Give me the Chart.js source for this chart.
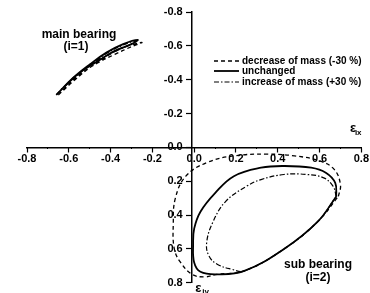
<!DOCTYPE html>
<html>
<head>
<meta charset="utf-8">
<script src="https://cdn.jsdelivr.net/npm/chart.js@4.4.1/dist/chart.umd.min.js"></script>
<style>
  html, body { margin: 0; padding: 0; background: #fff; }
  #wrap { width: 370px; height: 293px; }
</style>
</head>
<body>
<div id="wrap"><canvas id="orbitChart"></canvas></div>
<script>
// tick labels
const majorTicks = [-0.8, -0.6, -0.4, -0.2, 0.0, 0.2, 0.4, 0.6, 0.8];

// main bearing (i=1) orbits
const mainDecX = [-0.65, -0.57, -0.49, -0.41, -0.33, -0.25, -0.30, -0.38, -0.46, -0.55, -0.62, -0.65];
const mainDecY = [-0.31, -0.40, -0.48, -0.545, -0.595, -0.62, -0.595, -0.55, -0.50, -0.43, -0.35, -0.31];
const mainUncX = [-0.66, -0.58, -0.50, -0.42, -0.34, -0.27, -0.30, -0.38, -0.46, -0.55, -0.62, -0.66];
const mainUncY = [-0.31, -0.41, -0.49, -0.56, -0.61, -0.635, -0.61, -0.57, -0.51, -0.44, -0.36, -0.31];
const mainIncX = [-0.66, -0.58, -0.50, -0.42, -0.34, -0.28, -0.32, -0.40, -0.48, -0.56, -0.63, -0.66];
const mainIncY = [-0.31, -0.405, -0.485, -0.555, -0.605, -0.63, -0.60, -0.555, -0.50, -0.43, -0.35, -0.31];

// sub bearing (i=2) orbits
const subDecX = [0.69, 0.70, 0.67, 0.60, 0.48, 0.35, 0.19, 0.06, -0.04, -0.09, -0.10, -0.095, -0.065, -0.01, 0.05, 0.11, 0.24, 0.43, 0.59, 0.69];
const subDecY = [0.29, 0.22, 0.13, 0.08, 0.05, 0.04, 0.05, 0.09, 0.17, 0.30, 0.45, 0.60, 0.68, 0.75, 0.765, 0.75, 0.73, 0.60, 0.44, 0.29];
const subUncX = [0.68, 0.675, 0.63, 0.56, 0.43, 0.32, 0.19, 0.10, 0.03, 0.0, -0.005, 0.0, 0.03, 0.11, 0.24, 0.43, 0.59, 0.68];
const subUncY = [0.29, 0.21, 0.15, 0.12, 0.11, 0.12, 0.17, 0.27, 0.38, 0.48, 0.57, 0.68, 0.735, 0.75, 0.73, 0.60, 0.44, 0.29];
const subIncX = [0.68, 0.665, 0.62, 0.54, 0.43, 0.32, 0.25, 0.15, 0.09, 0.06, 0.07, 0.11, 0.18, 0.24, 0.43, 0.59, 0.68];
const subIncY = [0.29, 0.23, 0.18, 0.16, 0.16, 0.19, 0.23, 0.32, 0.44, 0.56, 0.64, 0.69, 0.72, 0.73, 0.60, 0.44, 0.29];

const seriesNames = ['decrease of mass (-30 %)', 'unchanged', 'increase of mass (+30 %)'];

const FONT = 'Liberation Sans';
Chart.defaults.font.family = FONT;
Chart.defaults.font.weight = 'bold';
Chart.defaults.color = '#000';

function pts(xs, ys) {
    return xs.map((x, i) => ({x: x, y: ys[i]}));
}

const styles = [
    {borderDash: [4, 3], borderWidth: 1.3},
    {borderDash: [], borderWidth: 1.8},
    {borderDash: [5, 2, 1.5, 2], borderWidth: 1.2}
];

function orbit(xs, ys, s) {
    return {
        data: pts(xs, ys),
        showLine: true,
        borderColor: '#000',
        borderWidth: styles[s].borderWidth,
        borderDash: styles[s].borderDash,
        pointRadius: 0,
        tension: 0.4,
        fill: false
    };
}

// labels, axis titles and legend drawn on top of the chart
const annotations = {
    id: 'annotations',
    afterDraw(chart) {
        const ctx = chart.ctx;
        const sx = chart.scales.x, sy = chart.scales.y;
        ctx.save();
        ctx.fillStyle = '#000';
        ctx.textAlign = 'center';
        ctx.textBaseline = 'middle';
        ctx.font = 'bold 12px ' + FONT;
        ctx.fillText('main bearing', 79, 35);
        ctx.fillText('(i=1)', 76, 47);
        ctx.fillText('sub bearing', 318, 265);
        ctx.fillText('(i=2)', 318, 278);

        // axis titles
        ctx.font = 'bold 13px ' + FONT;
        ctx.fillText('ε', sx.getPixelForValue(0.76), sy.getPixelForValue(-0.11));
        ctx.font = 'bold 8px ' + FONT;
        ctx.fillText('ix', sx.getPixelForValue(0.785), sy.getPixelForValue(-0.085));
        ctx.font = 'bold 13px ' + FONT;
        ctx.fillText('ε', sx.getPixelForValue(0.02), 288);
        ctx.font = 'bold 8px ' + FONT;
        ctx.fillText('iy', sx.getPixelForValue(0.055), 292);

        // legend
        ctx.font = 'bold 10px ' + FONT;
        ctx.textAlign = 'left';
        const rowY = [61, 71, 82];
        seriesNames.forEach((name, i) => {
            ctx.beginPath();
            ctx.lineWidth = styles[i].borderWidth;
            ctx.setLineDash(styles[i].borderDash);
            ctx.moveTo(214, rowY[i]);
            ctx.lineTo(239, rowY[i]);
            ctx.stroke();
            ctx.setLineDash([]);
            ctx.fillText(name, 242, rowY[i]);
        });
        ctx.restore();
    }
};

function zeroWidth(s) { s.width = 0; }
function zeroHeight(s) { s.height = 0; }
function setMajor(s) { s.ticks = majorTicks.map(v => ({value: v})); }

const ctx = document.getElementById('orbitChart').getContext('2d');
window.orbitChart = new Chart(ctx, {
    type: 'scatter',
    data: {
        datasets: [
            orbit(mainDecX, mainDecY, 0),
            orbit(mainUncX, mainUncY, 1),
            orbit(mainIncX, mainIncY, 2),
            orbit(subDecX, subDecY, 0),
            orbit(subUncX, subUncY, 1),
            orbit(subIncX, subIncY, 2)
        ]
    },
    options: {
        responsive: true,
        maintainAspectRatio: false,
        animation: false,
        layout: {padding: {left: 27, right: 5, top: 12, bottom: 9}},
        plugins: {legend: {display: false}, tooltip: {enabled: false}},
        scales: {
            x: {
                type: 'linear', min: -0.8, max: 0.8,
                position: {y: 0},
                afterFit: zeroHeight,
                afterBuildTicks: setMajor,
                grid: {drawOnChartArea: false, tickLength: 4, tickWidth: 1.2, tickColor: '#000'},
                border: {color: '#000', width: 1.5},
                ticks: {font: {size: 11, weight: 'bold'}, padding: 1, maxRotation: 0, callback: v => v.toFixed(1)}
            },
            y: {
                type: 'linear', min: -0.8, max: 0.8, reverse: true,
                position: {x: -0.01},
                afterFit: zeroWidth,
                afterBuildTicks: setMajor,
                grid: {drawOnChartArea: false, tickLength: 5, tickWidth: 1.2, tickColor: '#000'},
                border: {color: '#000', width: 1.5},
                ticks: {callback: () => ''}
            },
            yLabels: {
                type: 'linear', min: -0.8, max: 0.8, reverse: true,
                position: {x: -0.055},
                afterFit: zeroWidth,
                afterBuildTicks: setMajor,
                grid: {display: false},
                border: {display: false},
                ticks: {font: {size: 11, weight: 'bold'}, callback: v => v.toFixed(1)}
            },
            x2: {
                type: 'linear', min: -0.8, max: 0.8,
                position: {y: 0},
                afterFit: zeroHeight,
                ticks: {stepSize: 0.1, callback: () => ''},
                grid: {drawOnChartArea: false, tickLength: 2, tickColor: '#000'},
                border: {display: false}
            },
            y2: {
                type: 'linear', min: -0.8, max: 0.8, reverse: true,
                position: {x: -0.01},
                afterFit: zeroWidth,
                ticks: {stepSize: 0.1, callback: () => ''},
                grid: {drawOnChartArea: false, tickLength: 2, tickColor: '#000'},
                border: {display: false}
            }
        }
    },
    plugins: [annotations]
});
</script>
</body>
</html>
